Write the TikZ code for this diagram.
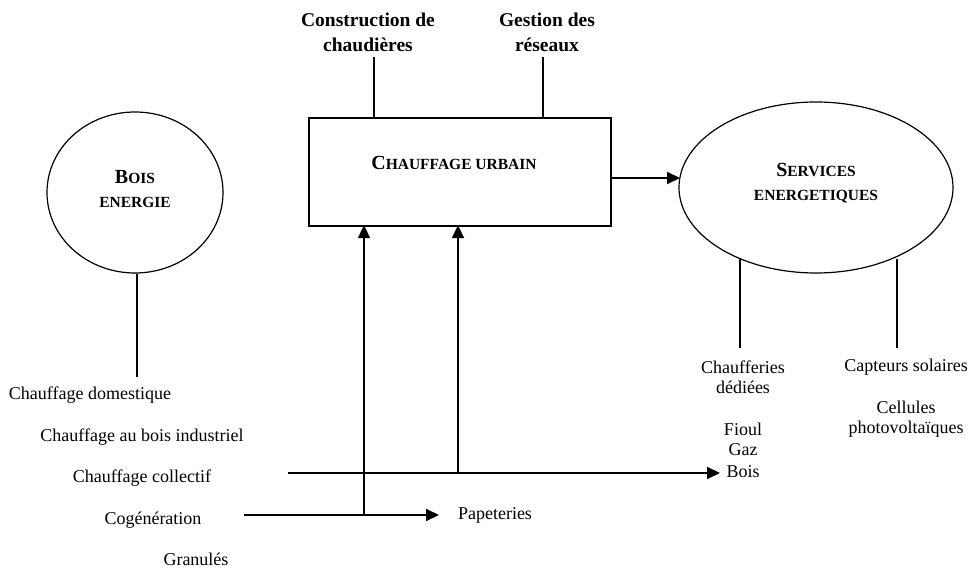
\documentclass[tikz,border=0pt]{standalone}
\usepackage{fontspec}
\setmainfont{Liberation Serif}
\usetikzlibrary{shapes.geometric,arrows.meta}
\begin{document}
\begin{tikzpicture}[x=1pt,y=-1pt,
  lbl/.style={font=\fontsize{18}{20}\selectfont, align=center, inner sep=0pt},
  blbl/.style={font=\fontsize{19.5}{25}\selectfont\bfseries, align=center, inner sep=0pt},
  title/.style={font=\fontsize{15.5}{24.5}\selectfont\bfseries, align=center, inner sep=0pt},
  oval/.style={draw, ellipse, line width=1.2pt, inner sep=0pt},
  thinline/.style={line width=1.2pt},
  flow/.style={line width=2pt, -{Triangle[length=13pt,width=12pt]}}
]
\useasboundingbox (0,0) rectangle (970,569);
\newcommand{\bigC}[1]{{\fontsize{20}{24.5}\selectfont #1}}

% main shapes
\node[oval, minimum width=176pt, minimum height=161pt] (bois) at (135,192.5) {};
\node[title] at (135,189) {\bigC{B}OIS\\ENERGIE};

\node[draw, line width=1.4pt, minimum width=302pt, minimum height=108pt, inner sep=0pt] (box) at (460,172) {};
\node[title] at (454,163) {\bigC{C}HAUFFAGE URBAIN};

\node[oval, minimum width=274pt, minimum height=171pt] (serv) at (816,187.5) {};
\node[title] at (816,183) {\bigC{S}ERVICES\\ENERGETIQUES};

% top labels
\node[blbl] (cons) at (368,32) {Construction de\\chaudières};
\node[blbl] (gest) at (547,32) {Gestion des\\réseaux};
\coordinate (c1) at (374,57);
\coordinate (c2) at (543,57);
\draw[thinline] (c1) -- (c1 |- box.north);
\draw[thinline] (c2) -- (c2 |- box.north);

% left labels
\node[lbl] (dom) at (90,395) {Chauffage domestique};
\node[lbl] (ind) at (142,437) {Chauffage au bois industriel};
\node[lbl] (coll) at (142,478) {Chauffage collectif};
\node[lbl] (cog) at (153,520) {Cogénération};
\node[lbl] (gran) at (196,559) {Granulés};
\coordinate (b1) at (137,377);
\draw[thinline] (bois.south -| b1) -- (b1);

% right labels
\node[lbl] (chf) at (743,377) {Chaufferies\\dédiées};
\node[lbl] (fioul) at (743,429) {Fioul};
\node[lbl] (gaz) at (743,450) {Gaz};
\node[lbl] (boisr) at (743,472) {Bois};
\node[lbl] (capt) at (906,367) {Capteurs solaires};
\node[lbl] (cell) at (906,419) {Cellules\\photovoltaïques};
\node[lbl] (pap) at (495,515) {Papeteries};

\coordinate (s1a) at (740,258);
\coordinate (s1b) at (740,348);
\coordinate (s2a) at (897,259);
\coordinate (s2b) at (897,348);
\draw[thinline] (s1a) -- (s1b);
\draw[thinline] (s2a) -- (s2b);

% flows
\coordinate (e1) at (611,178);
\coordinate (e2) at (680,178);
\draw[flow] (e1) -- (e2);

\coordinate (h1s) at (288,473);
\coordinate (h1e) at (720,473);
\coordinate (h2s) at (244,515);
\coordinate (h2e) at (439,515);
\coordinate (v1) at (364,515);
\coordinate (v2) at (458,473);
\draw[flow] (h1s) -- (h1e);
\draw[flow] (h2s) -- (h2e);
\draw[flow] (v1) -- ([yshift=1.5pt]v1 |- box.south);
\draw[flow] (v2) -- ([yshift=1.5pt]v2 |- box.south);
\end{tikzpicture}
\end{document}
